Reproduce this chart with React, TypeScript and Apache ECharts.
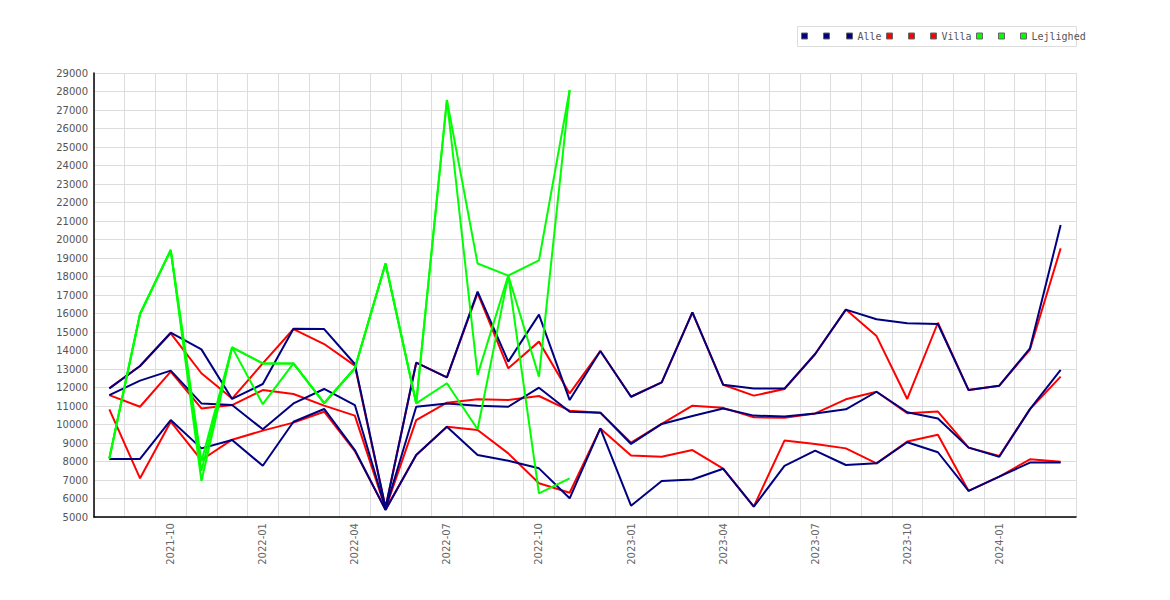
import React, { useEffect, useRef } from "react";
import * as echarts from "echarts";

const months = [
  "2021-08", "2021-09", "2021-10", "2021-11", "2021-12",
  "2022-01", "2022-02", "2022-03", "2022-04", "2022-05", "2022-06",
  "2022-07", "2022-08", "2022-09", "2022-10", "2022-11", "2022-12",
  "2023-01", "2023-02", "2023-03", "2023-04", "2023-05", "2023-06",
  "2023-07", "2023-08", "2023-09", "2023-10", "2023-11", "2023-12",
  "2024-01", "2024-02", "2024-03",
];

const alleHigh = [11950, 13160, 14960, 14060, 11380, 12190, 15180, 15160, 13270, 5500, 13340, 12550, 17180, 13400, 15940, 11320, 13970, 11500, 12280, 16060, 12150, 11940, 11940, 13810, 16210, 15690, 15470, 15430, 11860, 12100, 14120, 20780];
const alleMid = [11590, 12370, 12910, 11140, 11050, 9740, 11140, 11920, 11050, 5450, 10960, 11140, 11020, 10960, 11990, 10690, 10640, 8950, 10030, 10460, 10870, 10480, 10430, 10600, 10820, 11770, 10660, 10320, 8750, 8260, 10830, 12950];
const alleLow = [8140, 8140, 10240, 8710, 9160, 7770, 10150, 10840, 8620, 5380, 8350, 9880, 8350, 8045, 7630, 6010, 9790, 5610, 6950, 7030, 7610, 5560, 7760, 8590, 7810, 7900, 9040, 8500, 6410, 7180, 7940, 7940];

const villaHigh = [11950, 13160, 14930, 12770, 11400, 13300, 15160, 14350, 13180, 5500, 13340, 12550, 17100, 13040, 14480, 11680, 13970, 11500, 12280, 16060, 12150, 11560, 11920, 13810, 16210, 14780, 11380, 15500, 11860, 12100, 14050, 19520];
const villaMid = [11590, 10960, 12860, 10870, 11050, 11860, 11650, 11020, 10480, 5450, 10240, 11180, 11360, 11330, 11540, 10750, 10640, 9020, 10030, 11020, 10900, 10390, 10370, 10600, 11360, 11770, 10610, 10700, 8750, 8300, 10830, 12590];
const villaLow = [10820, 7090, 10150, 8080, 9180, 9670, 10100, 10690, 8560, 5400, 8350, 9880, 9700, 8440, 6820, 6310, 9790, 8320, 8260, 8620, 7620, 5560, 9130, 8950, 8710, 7900, 9080, 9450, 6410, 7180, 8120, 7990];

const lejlLow = [8170, 15970, 19430, 6950, 14170, 11100, 13300, 11150, 13040, 18700, 11140, 12230, 9740, 18050, 6280, 7090, null, null, null, null, null, null, null, null, null, null, null, null, null, null, null, null];
const lejlMid = [8170, 15970, 19430, 7500, 14170, 13300, 13300, 11150, 13040, 18700, 11140, 27540, 12680, 18050, 12590, 28080, null, null, null, null, null, null, null, null, null, null, null, null, null, null, null, null];
const lejlHigh = [8170, 15970, 19430, 8000, 14170, 13300, 13300, 11150, 13040, 18700, 11140, 27540, 18700, 18050, 18870, 28080, null, null, null, null, null, null, null, null, null, null, null, null, null, null, null, null];

const seriesNames = ["a1", "a2", "Alle", "v1", "v2", "Villa", "l1", "l2", "Lejlighed"];
const legendLabels = [" ", " ", "Alle", " ", " ", "Villa", " ", " ", "Lejlighed"];
const legendX = [801, 823, 846, 886, 908, 930, 976, 998, 1020];

const NAVY = "#000080";
const RED = "#ff0000";
const GREEN = "#00ff00";

function mkSeries(name: string, data: (number | null)[], color: string, z: number) {
  return {
    name,
    type: "line",
    data,
    showSymbol: false,
    symbol: "rect",
    symbolSize: 6,
    color,
    z,
    lineStyle: { color, width: 2 },
    itemStyle: { color, borderColor: "#666", borderWidth: 1 },
    emphasis: { disabled: true },
  };
}

export default function App() {
  const ref = useRef<HTMLDivElement>(null);
  useEffect(() => {
    if (!ref.current) return;
    const chart = echarts.init(ref.current, null, { renderer: "svg" });
    const legends = seriesNames.map((name, i) => ({
      data: [name],
      left: legendX[i],
      top: 31,
      padding: 0,
      itemWidth: 6,
      itemHeight: 6,
      itemGap: 0,
      icon: "rect",
      selectedMode: false,
      formatter: () => legendLabels[i],
      itemStyle: { borderColor: "#666", borderWidth: 1 },
      textStyle: { fontFamily: "DejaVu Sans Mono", fontSize: 10, color: "#555" },
    }));
    chart.setOption({
      animation: false,
      backgroundColor: "#ffffff",
      grid: { left: 94, right: 94, top: 73, bottom: 83, containLabel: false },
      legend: legends,
      graphic: [
        {
          type: "rect",
          shape: { x: 797.5, y: 26.5, width: 279, height: 20 },
          style: { fill: "none", stroke: "#dddddd", lineWidth: 1 },
          z: -1,
        },
      ],
      xAxis: {
        type: "category",
        data: months,
        boundaryGap: true,
        axisLine: { show: true, lineStyle: { color: "#000", width: 1.5 } },
        axisTick: { show: false },
        splitLine: { show: true, interval: 0, lineStyle: { color: "#dddddd", width: 1 } },
        axisLabel: {
          interval: (idx: number) => idx % 3 === 2,
          rotate: 90,
          margin: 6,
          fontFamily: "DejaVu Sans",
          fontSize: 10,
          color: "#666",
        },
      },
      yAxis: {
        type: "value",
        min: 5000,
        max: 29000,
        interval: 1000,
        axisLine: { show: true, lineStyle: { color: "#000", width: 1.5 } },
        axisTick: { show: false },
        splitLine: { show: true, lineStyle: { color: "#dddddd", width: 1 } },
        axisLabel: {
          margin: 6,
          fontFamily: "DejaVu Sans",
          fontSize: 10,
          color: "#555",
          formatter: (v: number) => String(v),
        },
      },
      series: [
        mkSeries("a1", alleLow, NAVY, 4),
        mkSeries("a2", alleMid, NAVY, 4),
        mkSeries("Alle", alleHigh, NAVY, 4),
        mkSeries("v1", villaLow, RED, 3),
        mkSeries("v2", villaMid, RED, 3),
        mkSeries("Villa", villaHigh, RED, 3),
        mkSeries("l1", lejlLow, GREEN, 5),
        mkSeries("l2", lejlMid, GREEN, 5),
        mkSeries("Lejlighed", lejlHigh, GREEN, 5),
      ],
    });
    return () => chart.dispose();
  }, []);
  return (
    <div
      ref={ref}
      style={{ position: "absolute", left: 0, top: 0, width: 1170, height: 600 }}
    />
  );
}
